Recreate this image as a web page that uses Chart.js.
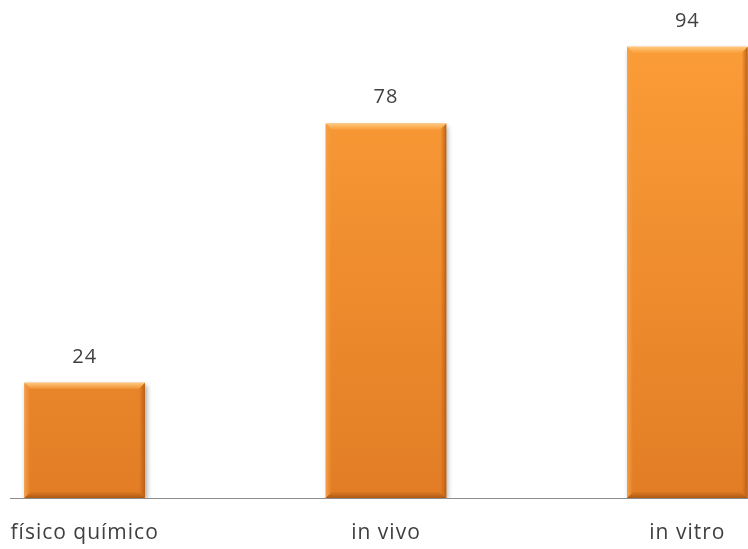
<!DOCTYPE html>
<html>
<head>
<meta charset="utf-8">
<script src="https://cdn.jsdelivr.net/npm/chart.js@4.4.1/dist/chart.umd.min.js"></script>
<style>
  html, body { margin: 0; padding: 0; background: #fff; overflow: hidden; width: 748px; height: 549px; }
  #wrap { position: absolute; left: -66px; top: 0; width: 904px; height: 549px; }
</style>
</head>
<body>
<div id="wrap"><canvas id="chart"></canvas></div>
<script>
// data
const categories = ['físico químico', 'in vivo', 'in vitro'];
const values = [24, 78, 94];

const textColor = '#404040';
const fontFamily = '"Open Sans", "Noto Sans", sans-serif';

// vertical orange gradient for each bar
function barFill(context) {
    const chart = context.chart;
    const area = chart.chartArea;
    if (!area) return '#F7962F';
    const g = chart.ctx.createLinearGradient(0, area.top, 0, area.bottom);
    g.addColorStop(0, '#FC9E38');
    g.addColorStop(1, '#E27D25');
    return g;
}

// wider text spacing, closer to the original font
const spacingPlugin = {
    id: 'spacing',
    beforeDraw(chart) {
        chart.ctx.letterSpacing = '1px';
    }
};

// soft shadow under bars
const shadowPlugin = {
    id: 'shadow',
    beforeDatasetsDraw(chart) {
        const ctx = chart.ctx;
        ctx.save();
        ctx.shadowColor = 'rgba(0,0,0,0.35)';
        ctx.shadowBlur = 5;
        ctx.shadowOffsetX = 2;
        ctx.shadowOffsetY = 2;
    },
    afterDatasetsDraw(chart) {
        chart.ctx.restore();
    }
};

// bevel edges + value labels
const bevelPlugin = {
    id: 'bevel',
    afterDatasetsDraw(chart) {
        const ctx = chart.ctx;
        const meta = chart.getDatasetMeta(0);
        const b = 6;
        meta.data.forEach((bar, i) => {
            const L = bar.x - bar.width / 2, R = bar.x + bar.width / 2;
            const T = bar.y, B = bar.base;
            const poly = (pts, fill) => {
                ctx.beginPath();
                ctx.moveTo(pts[0][0], pts[0][1]);
                for (let k = 1; k < pts.length; k++) ctx.lineTo(pts[k][0], pts[k][1]);
                ctx.closePath();
                ctx.fillStyle = fill;
                ctx.fill();
            };
            ctx.save();
            // left
            let g = ctx.createLinearGradient(L, 0, L + b, 0);
            g.addColorStop(0, '#F5A14A'); g.addColorStop(1, 'rgba(245,155,60,0)');
            poly([[L, T], [L + b, T + b], [L + b, B - b], [L, B]], g);
            // right
            g = ctx.createLinearGradient(R - b, 0, R, 0);
            g.addColorStop(0, 'rgba(200,100,25,0)'); g.addColorStop(1, '#B85F16');
            poly([[R, T], [R, B], [R - b, B - b], [R - b, T + b]], g);
            // bottom
            g = ctx.createLinearGradient(0, B - b, 0, B);
            g.addColorStop(0, 'rgba(190,100,25,0.2)'); g.addColorStop(1, '#A95712');
            poly([[L, B], [L + b, B - b], [R - b, B - b], [R, B]], g);
            // top
            g = ctx.createLinearGradient(0, T, 0, T + b);
            g.addColorStop(0, '#FFCB80'); g.addColorStop(1, 'rgba(253,175,85,0.4)');
            poly([[L, T], [R, T], [R - b, T + b], [L + b, T + b]], g);

            // value label
            ctx.fillStyle = textColor;
            ctx.font = '20px ' + fontFamily;
            ctx.textAlign = 'center';
            ctx.textBaseline = 'middle';
            ctx.fillText(String(values[i]), bar.x, T - 26);
            ctx.restore();
        });
    }
};

// category axis line
const axisPlugin = {
    id: 'axisLine',
    beforeDatasetsDraw(chart) {
        const ctx = chart.ctx;
        const area = chart.chartArea;
        ctx.save();
        ctx.strokeStyle = '#8C8C8C';
        ctx.lineWidth = 1;
        ctx.beginPath();
        ctx.moveTo(area.left + 76, area.bottom + 0.5);
        ctx.lineTo(area.right, area.bottom + 0.5);
        ctx.stroke();
        ctx.restore();
    }
};

new Chart(document.getElementById('chart'), {
    type: 'bar',
    data: {
        labels: categories,
        datasets: [{
            data: values,
            backgroundColor: barFill,
            borderWidth: 0,
            barPercentage: 0.4,
            categoryPercentage: 1.0
        }]
    },
    options: {
        responsive: true,
        maintainAspectRatio: false,
        animation: false,
        layout: { padding: { top: 18, left: 0, right: 0, bottom: 0 } },
        plugins: { legend: { display: false }, tooltip: { enabled: false } },
        scales: {
            x: {
                grid: { display: false, drawTicks: false },
                border: { display: false },
                ticks: {
                    color: textColor,
                    font: { size: 21, family: fontFamily },
                    padding: 22,
                    maxRotation: 0
                },
                afterFit(scale) { scale.height = 51; }
            },
            y: {
                display: false,
                min: 0,
                max: 100
            }
        }
    },
    plugins: [spacingPlugin, axisPlugin, shadowPlugin, bevelPlugin]
});
</script>
</body>
</html>
